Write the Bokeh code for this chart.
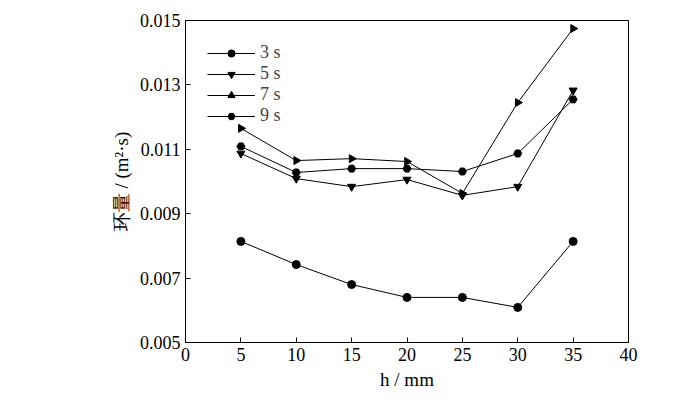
import math
from bokeh.plotting import figure
from bokeh.embed import file_html
from bokeh.resources import INLINE
from bokeh.models import Legend, LegendItem, Range1d, FixedTicker

h = [5, 10, 15, 20, 25, 30, 35]
s3 = [0.00814, 0.00742, 0.00680, 0.00640, 0.00640, 0.00609, 0.00814]
s5 = [0.01087, 0.01009, 0.00984, 0.01006, 0.00957, 0.00984, 0.01283]
s7 = [0.01165, 0.01065, 0.01071, 0.01062, 0.00963, 0.01245, 0.01475]
s9 = [0.01109, 0.01028, 0.01040, 0.01040, 0.01031, 0.01087, 0.01255]
names = ["3 s", "5 s", "7 s", "9 s"]

F = "Liberation Serif"
p = figure(width=684, height=396, output_backend="svg", toolbar_location=None,
           x_range=Range1d(0, 40), y_range=Range1d(0.005, 0.015),
           min_border_left=185, min_border_right=56, min_border_top=20, min_border_bottom=54)
p.grid.visible = False
p.outline_line_color = "black"
p.xaxis.ticker = FixedTicker(ticks=list(range(0, 41, 5)))
p.yaxis.ticker = FixedTicker(ticks=[0.005, 0.007, 0.009, 0.011, 0.013, 0.015])
p.xaxis.axis_label = "h / mm"
p.yaxis.axis_label = "环量 / (m²·s)"
for ax in (p.xaxis, p.yaxis):
    ax.major_label_text_font = F
    ax.major_label_text_font_size = "18px"
    ax.axis_label_text_font = F
    ax.axis_label_text_font_size = "19px"
    ax.axis_label_text_font_style = "normal"
    ax.axis_label_text_color = "black"
    ax.major_tick_in = 5
    ax.major_tick_out = 0
    ax.minor_tick_line_color = None
    ax.axis_line_color = "black"
    ax.major_label_text_color = "black"

items = []
specs = [(s3, "circle", 0), (s5, "inverted_triangle", 0), (s7, "triangle", -math.pi / 2), (s9, "hex", 0)]
for (ys, m, ang), n in zip(specs, names):
    l = p.line(h, ys, line_color="black", line_width=1)
    s = p.scatter(h, ys, marker=m, angle=ang, size=8, color="black")
    items.append(LegendItem(label=n, renderers=[l, s]))
leg = Legend(items=items, location="top_left", border_line_color=None, background_fill_alpha=0,
             label_text_font=F, label_text_font_size="18px", spacing=-4, padding=0,
             margin=22, glyph_width=48, label_height=18, glyph_height=18)
p.add_layout(leg)

open("out.html", "w").write(file_html(p, INLINE))
